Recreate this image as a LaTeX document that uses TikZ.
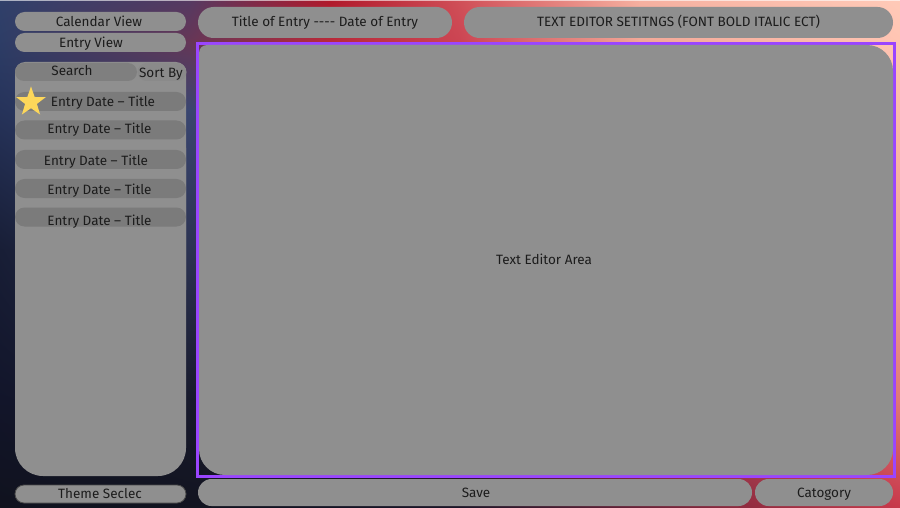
\documentclass[tikz,border=0pt]{standalone}
\usepackage{fontspec}
\setmainfont{Fira Sans}
\usetikzlibrary{shadings,shapes.geometric}
% background grid colours: row j (y), column i (x)
\definecolor{c00}{HTML}{30406A}\definecolor{c01}{HTML}{553A62}\definecolor{c02}{HTML}{B0182A}\definecolor{c03}{HTML}{D05058}\definecolor{c04}{HTML}{F6B0A0}\definecolor{c05}{HTML}{FFCAB8}
\definecolor{c10}{HTML}{2D3D66}\definecolor{c11}{HTML}{663656}\definecolor{c12}{HTML}{B82A3A}\definecolor{c13}{HTML}{CC4553}\definecolor{c14}{HTML}{F2A898}\definecolor{c15}{HTML}{FFC5B3}
\definecolor{c20}{HTML}{26335A}\definecolor{c21}{HTML}{3A4670}\definecolor{c22}{HTML}{70304E}\definecolor{c23}{HTML}{A03045}\definecolor{c24}{HTML}{E89088}\definecolor{c25}{HTML}{FCBCAA}
\definecolor{c30}{HTML}{181E36}\definecolor{c31}{HTML}{2C3352}\definecolor{c32}{HTML}{3A2A45}\definecolor{c33}{HTML}{6A2A45}\definecolor{c34}{HTML}{C86070}\definecolor{c35}{HTML}{F4A898}
\definecolor{c40}{HTML}{12152A}\definecolor{c41}{HTML}{181A2C}\definecolor{c42}{HTML}{201A30}\definecolor{c43}{HTML}{3A1C30}\definecolor{c44}{HTML}{A03A50}\definecolor{c45}{HTML}{E07878}
\definecolor{c50}{HTML}{10121E}\definecolor{c51}{HTML}{121420}\definecolor{c52}{HTML}{141424}\definecolor{c53}{HTML}{1C1628}\definecolor{c54}{HTML}{6A2238}\definecolor{c55}{HTML}{C8384A}
\definecolor{gbtn}{HTML}{8F8F8F}
\definecolor{gdark}{HTML}{7B7B7B}
\definecolor{gsort}{HTML}{8A8A8A}
\definecolor{purp}{HTML}{9A45FF}
\definecolor{txt}{HTML}{1C1C1C}
\definecolor{staryel}{HTML}{FDD75A}
\definecolor{outl}{HTML}{4A4A4A}
\tikzset{
  lbl/.style={text=txt, font=\fontsize{13.5}{16}\selectfont, inner sep=0pt, text height=9.3pt, text depth=0pt},
  pill/.style={fill=gbtn, draw=none, inner sep=0pt, lbl},
  entryrow/.style={pill, fill=gdark, minimum width=171pt, minimum height=19pt, rounded corners=9.5pt},
}
\begin{document}
\begin{tikzpicture}[x=1pt,y=-1pt]
\useasboundingbox (0,0) rectangle (900,508);
% background
\foreach \xa/\xb/\i/\ii in {0/190/0/1,190/330/1/2,330/460/2/3,460/640/3/4,640/900/4/5}{
  \foreach \ya/\yb/\j/\jj in {0/40/0/1,40/110/1/2,110/250/2/3,250/400/3/4,400/508/4/5}{
    \shade[shading=bilinear interpolation,
      upper left=c\j\i, upper right=c\j\ii, lower left=c\jj\i, lower right=c\jj\ii]
      (\xa-0.4,\ya-0.4) rectangle (\xb+0.4,\yb+0.4);
  }
}
\fill[white, opacity=0.6] (0,0) rectangle (900,1.5);
% sidebar
\fill[gbtn, rounded corners=10pt] (15,62) rectangle (186,300);
\fill[gbtn, rounded corners=28pt] (15,120) rectangle (186,476);
\node[pill, minimum width=171pt, minimum height=19pt, rounded corners=9.5pt] (cal) at (100.5,21.5) {};
\node[lbl] (calt) at (99,21.5) {Calendar View};
\node[pill, minimum width=171pt, minimum height=19pt, rounded corners=9.5pt] (ent) at (100.5,42.5) {};
\node[lbl] (entt) at (91,43) {Entry View};
\node[pill, fill=gsort, minimum width=49pt, minimum height=18pt, rounded corners=9pt] (sort) at (162,72) {};
\node[lbl] (sortt) at (161,72.5) {Sort By};
\node[pill, fill=gdark!80!gbtn, minimum width=122pt, minimum height=18pt, rounded corners=9pt] (search) at (76,72) {};
\node[lbl] (searcht) at (72,71) {Search};
\node[entryrow] (r1) at (100.5,101.5) {};
\node[lbl] (r1t) at (103,101.5) {Entry Date – Title};
\node[entryrow] (r2) at (100.5,130) {};
\node[lbl] (r2t) at (99.5,128.5) {Entry Date – Title};
\node[entryrow] (r3) at (100.5,159.5) {};
\node[lbl] (r3t) at (96,160.5) {Entry Date – Title};
\node[entryrow] (r4) at (100.5,188.5) {};
\node[lbl] (r4t) at (99.5,189.5) {Entry Date – Title};
\node[entryrow] (r5) at (100.5,217) {};
\node[lbl] (r5t) at (99.5,220.5) {Entry Date – Title};
\node[star, star points=5, star point ratio=2.5, fill=staryel, minimum size=31pt, inner sep=0pt] (fav) at (31,102) {};
\node[pill, draw=outl, line width=0.8pt, minimum width=171pt, minimum height=18pt, rounded corners=9pt] (theme) at (100.5,494) {};
\node[lbl] (themet) at (100,494) {Theme Seclec};
% top buttons
\node[pill, minimum width=254pt, minimum height=31pt, rounded corners=15.5pt] (title) at (325,22.5) {};
\node[lbl] (titlet) at (325,22) {Title of Entry {-}{-}{-}{-} Date of Entry};
\node[pill, minimum width=429pt, minimum height=31pt, rounded corners=15.5pt] (settings) at (678.5,22.5) {};
\node[lbl] (settingst) at (678.5,22) {TEXT EDITOR SETITNGS (FONT BOLD ITALIC ECT)};
% editor
\draw[purp, line width=2.6pt] (197.3,43.6) rectangle (894.7,476.2);
\fill[gbtn, rounded corners=8pt] (199,45) rectangle (500,250);
\node[pill, minimum width=694pt, minimum height=430pt, rounded corners=26pt] (editor) at (546,260) {};
\node[lbl] (editort) at (544,259.5) {Text Editor Area};
% bottom buttons
\node[pill, minimum width=554pt, minimum height=27pt, rounded corners=13.5pt] (save) at (475,492.5) {};
\node[lbl] (savet) at (476,492.5) {Save};
\node[pill, minimum width=138pt, minimum height=27pt, rounded corners=13.5pt] (cat) at (824,492.5) {};
\node[lbl] (catt) at (824,492.5) {Catogory};
\end{tikzpicture}
\end{document}
